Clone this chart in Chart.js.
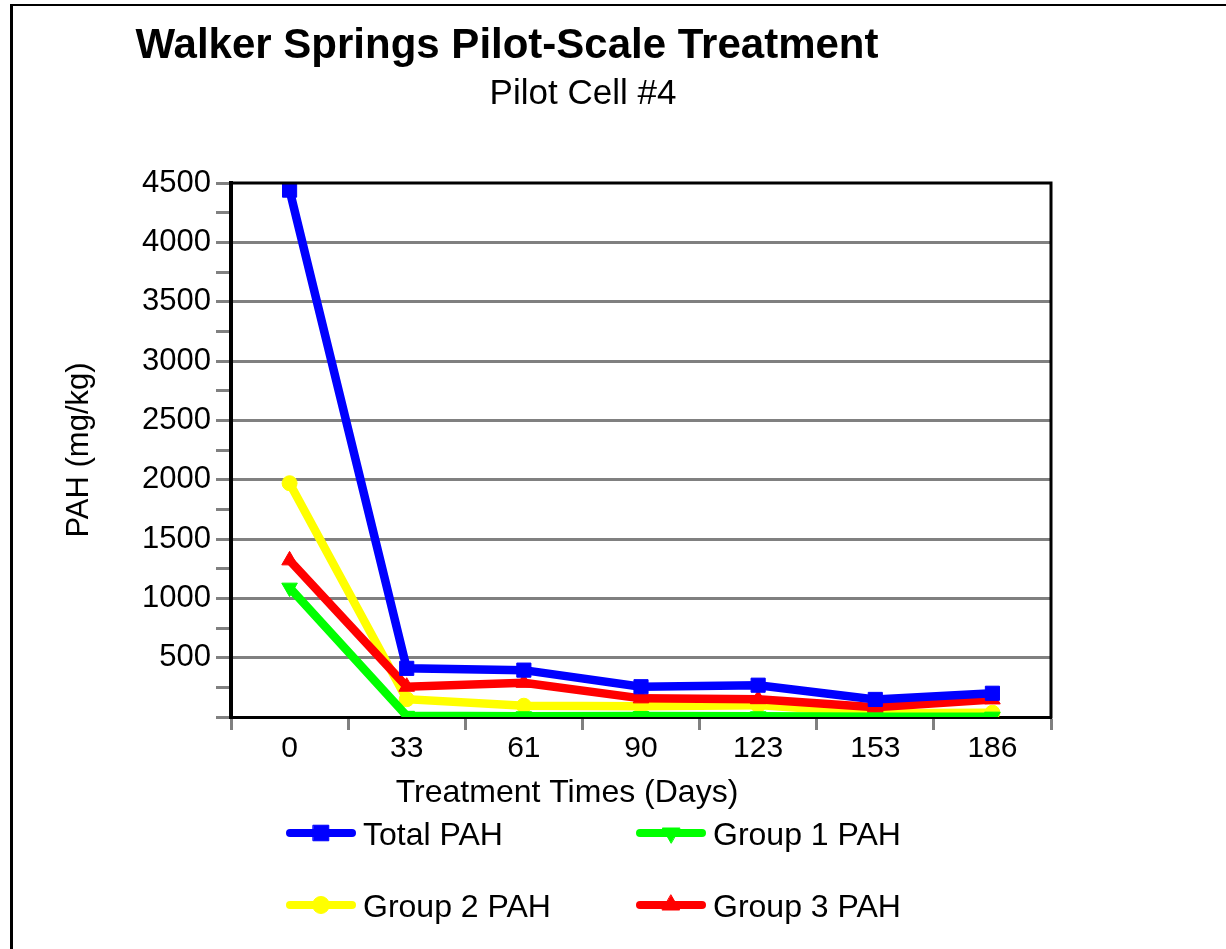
<!DOCTYPE html>
<html>
<head>
<meta charset="utf-8">
<script src="https://cdn.jsdelivr.net/npm/chart.js@4/dist/chart.umd.min.js"></script>
<style>
  html, body { margin: 0; padding: 0; background: #ffffff; }
  #wrap { width: 1226px; height: 949px; position: relative; }
</style>
</head>
<body>
<div id="wrap"><canvas id="c" width="1226" height="949"></canvas></div>
<script>
// ---- data ----
const categories = ['0', '33', '61', '90', '123', '153', '186'];
const totalPAH  = [4440, 410, 395, 255, 268, 148, 200];
const group1PAH = [1090, 10, 6, 8, 6, 3, 3];
const group2PAH = [1970, 150, 95, 90, 100, 32, 36];
const group3PAH = [1320, 255, 288, 157, 150, 82, 148];
const seriesNames = ['Total PAH', 'Group 1 PAH', 'Group 2 PAH', 'Group 3 PAH'];
const yMin = 0, yMax = 4500, yMinorStep = 250, yLabelStep = 500;

const titleText = 'Walker Springs Pilot-Scale Treatment';
const subtitleText = 'Pilot Cell #4';
const xTitleText = 'Treatment Times (Days)';
const yTitleText = 'PAH (mg/kg)';

const FONT = '"Liberation Sans", Arial, Helvetica, sans-serif';
const GRAY = '#808080';

// legend slot layout (2 x 2 grid)
const legendSlots = [
  { x: 290, y: 833 }, { x: 640, y: 833 },
  { x: 290, y: 905 }, { x: 640, y: 905 }
];

const decorPlugin = {
  id: 'decor',
  beforeDraw(chart) {
    const ctx = chart.ctx;
    ctx.save();
    ctx.fillStyle = '#000';
    ctx.fillRect(10, 4, 3, chart.height - 4);
    ctx.fillRect(10, 4, chart.width - 10, 2);
    ctx.restore();
  },
  afterDraw(chart) {
    const ctx = chart.ctx;
    const a = chart.chartArea;
    ctx.save();
    // top and right frame of the plot
    ctx.strokeStyle = '#000';
    ctx.lineWidth = 3;
    ctx.beginPath();
    ctx.moveTo(a.left - 2, a.top);
    ctx.lineTo(a.right, a.top);
    ctx.lineTo(a.right, a.bottom + 1.5);
    ctx.stroke();

    // titles
    ctx.fillStyle = '#000';
    ctx.textAlign = 'center';
    ctx.textBaseline = 'alphabetic';
    ctx.font = 'bold 42px ' + FONT;
    ctx.fillText(titleText, 507, 58);
    ctx.font = '35px ' + FONT;
    ctx.fillText(subtitleText, 583, 104);
    ctx.font = '32px ' + FONT;
    ctx.fillText(xTitleText, 567, 802);

    // legend
    chart.data.datasets.forEach((ds, i) => {
      const s = legendSlots[i];
      ctx.strokeStyle = ds.borderColor;
      ctx.lineWidth = 8;
      ctx.lineCap = 'round';
      ctx.beginPath();
      ctx.moveTo(s.x, s.y);
      ctx.lineTo(s.x + 62, s.y);
      ctx.stroke();
      ctx.fillStyle = ds.backgroundColor;
      ctx.strokeStyle = ds.borderColor;
      ctx.lineWidth = 1;
      Chart.helpers.drawPoint(ctx, {
        pointStyle: ds.pointStyle,
        rotation: ds.pointRotation || 0,
        radius: ds.pointRadius + 1,
        borderWidth: 1
      }, s.x + 31, s.y);
      ctx.fillStyle = '#000';
      ctx.textAlign = 'left';
      ctx.textBaseline = 'alphabetic';
      ctx.font = '32px ' + FONT;
      ctx.fillText(ds.label, s.x + 73, s.y + 12);
    });
    ctx.restore();
  }
};

function mkSet(label, data, color, style, radius, rotation, order) {
  return {
    label, data,
    borderColor: color, backgroundColor: color,
    pointBackgroundColor: color, pointBorderColor: color,
    borderWidth: 8.5, pointStyle: style, pointRadius: radius,
    pointHoverRadius: radius, pointRotation: rotation, pointBorderWidth: 1,
    tension: 0, fill: false, order
  };
}

new Chart(document.getElementById('c'), {
  type: 'line',
  data: {
    labels: categories,
    datasets: [
      mkSet(seriesNames[0], totalPAH,  '#0000ff', 'rect', 10, 0, 0),
      mkSet(seriesNames[1], group1PAH, '#00ff00', 'triangle', 9, 180, 2),
      mkSet(seriesNames[2], group2PAH, '#ffff00', 'circle', 7.5, 0, 3),
      mkSet(seriesNames[3], group3PAH, '#ff0000', 'triangle', 9, 0, 1)
    ]
  },
  options: {
    responsive: false,
    animation: false,
    devicePixelRatio: 1,
    layout: { padding: { left: 58, right: 175, top: 183, bottom: 0 } },
    plugins: {
      legend: { display: false },
      title: { display: false },
      tooltip: { enabled: false }
    },
    scales: {
      x: {
        type: 'category',
        offset: true,
        afterFit(scale) { scale.height = 232; },
        grid: {
          offset: true,
          drawOnChartArea: false,
          drawTicks: true,
          tickLength: 13,
          tickWidth: 3,
          tickColor: GRAY
        },
        border: { color: '#000', width: 3 },
        ticks: {
          color: '#000',
          font: { family: FONT, size: 30 },
          padding: 1,
          autoSkip: false,
          maxRotation: 0
        }
      },
      y: {
        min: yMin, max: yMax,
        afterFit(scale) { scale.width = 173; },
        grid: {
          color: (ctx) => {
            const v = ctx.tick ? ctx.tick.value : 0;
            return (v % yLabelStep === 0 && v > yMin && v < yMax) ? GRAY : 'rgba(0,0,0,0)';
          },
          lineWidth: 3,
          drawTicks: true,
          tickLength: 15,
          tickWidth: 3,
          tickColor: GRAY
        },
        border: { color: '#000', width: 4 },
        ticks: {
          stepSize: yMinorStep,
          autoSkip: false,
          color: '#000',
          font: { family: FONT, size: 31 },
          padding: 5,
          callback: (v) => (v % yLabelStep === 0 && v !== yMin) ? String(v) : ''
        },
        title: {
          display: true,
          text: yTitleText,
          color: '#000',
          font: { family: FONT, size: 31 },
          padding: { top: 3, bottom: 0 }
        }
      }
    }
  },
  plugins: [decorPlugin]
});
</script>
</body>
</html>
